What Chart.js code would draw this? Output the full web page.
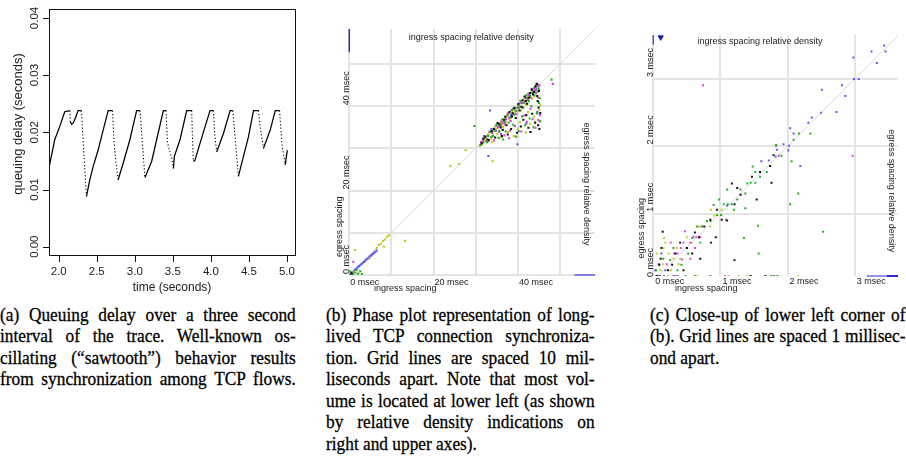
<!DOCTYPE html>
<html>
<head>
<meta charset="utf-8">
<script src="https://cdn.jsdelivr.net/npm/chart.js@4.4.0/dist/chart.umd.min.js"></script>
<style>
  body { margin: 0; background: #fff; }
  #fig { position: relative; width: 906px; height: 460px; overflow: hidden; }
  #fig canvas { position: absolute; top: 0; }
  .cap { position: absolute; top: 303.5px; font: 19.8px/21.6px "Liberation Serif", "Times New Roman", serif; color: #000;
         -webkit-text-stroke: 0.3px #000; transform: scaleX(0.875); transform-origin: 0 0; }
  .cap div { white-space: nowrap; text-align: justify; text-align-last: justify; }
  .cap div.last { text-align-last: left; }
</style>
</head>
<body>
<div id="fig">
  <canvas id="delayChart" width="310" height="300" style="left:0"></canvas>
  <canvas id="phaseChart" width="300" height="300" style="left:310px"></canvas>
  <canvas id="closeChart" width="296" height="300" style="left:610px"></canvas>

  <div class="cap" style="left:0;width:338px">
    <div>(a) Queuing delay over a three second</div>
    <div>interval of the trace. Well-known os-</div>
    <div>cillating (“sawtooth”) behavior results</div>
    <div>from synchronization among TCP flows.</div>
  </div>
  <div class="cap" style="left:326px;width:307px">
    <div>(b) Phase plot representation of long-</div>
    <div>lived TCP connection synchroniza-</div>
    <div>tion. Grid lines are spaced 10 mil-</div>
    <div>liseconds apart. Note that most vol-</div>
    <div>ume is located at lower left (as shown</div>
    <div>by relative density indications on</div>
    <div class="last">right and upper axes).</div>
  </div>
  <div class="cap" style="left:650px;width:292px">
    <div>(c) Close-up of lower left corner of</div>
    <div>(b). Grid lines are spaced 1 millisec-</div>
    <div class="last">ond apart.</div>
  </div>
</div>

<script>
// (a) queuing delay trace
const timeSec = [1.880, 1.947, 2.013, 2.079, 2.145, 2.152, 2.170, 2.190, 2.222, 2.254, 2.298,
  2.320, 2.343, 2.365, 2.408, 2.452, 2.518, 2.584, 2.650, 2.707, 2.725, 2.751, 2.781, 2.847,
  2.935, 3.024, 3.068, 3.103, 3.133, 3.221, 3.287, 3.375, 3.410, 3.430, 3.485, 3.507, 3.520,
  3.594, 3.682, 3.748, 3.760, 3.770, 3.790, 3.858, 3.924, 3.989, 4.033, 4.055, 4.077, 4.165,
  4.253, 4.288, 4.320, 4.362, 4.428, 4.494, 4.560, 4.626, 4.648, 4.692, 4.780, 4.846, 4.903,
  4.933, 4.977, 5.005];
const delaySec = [0.0143, 0.0187, 0.0210, 0.0236, 0.0238, 0.0218, 0.0214, 0.0216, 0.0226, 0.0238, 0.0238,
  0.0187, 0.0134, 0.0088, 0.0117, 0.0140, 0.0169, 0.0204, 0.0238, 0.0238, 0.0187, 0.0149, 0.0117, 0.0146,
  0.0187, 0.0238, 0.0238, 0.0175, 0.0121, 0.0149, 0.0187, 0.0238, 0.0238, 0.0181, 0.0155, 0.0137, 0.0158,
  0.0187, 0.0238, 0.0238, 0.0181, 0.0149, 0.0151, 0.0181, 0.0210, 0.0238, 0.0238, 0.0190, 0.0166, 0.0198,
  0.0238, 0.0238, 0.0190, 0.0123, 0.0158, 0.0192, 0.0238, 0.0238, 0.0209, 0.0172, 0.0204, 0.0238, 0.0238,
  0.0181, 0.0143, 0.0169];
const timeTicks = [2.0, 2.5, 3.0, 3.5, 4.0, 4.5, 5.0];
const delayTicks = [0.00, 0.01, 0.02, 0.03, 0.04];

// (b) phase plot, [ingress msec, egress msec]
const phaseTicks = [0, 10, 20, 30, 40, 50];
const phaseLabelTicks = [0, 20, 40];
const phaseBlack = [[31.4,31.2],[32.3,32.8],[33.1,31.9],[33.8,34.1],[34.6,32.6],[35.2,36.0],[35.9,35.0],[36.7,36.8],
  [37.3,35.5],[38.0,38.6],[38.8,38.3],[39.5,37.2],[40.1,40.5],[40.9,39.8],[41.6,42.3],[42.2,40.6],[42.9,43.1],
  [43.6,42.8],[44.2,44.7],[44.6,42.4],[36.2,32.9],[38.4,34.6],[39.8,33.7],[41.3,36.8],[42.5,34.9],[43.4,38.2],
  [44.1,36.1],[44.9,39.7],[45.1,34.6],[40.7,35.2],[37.6,33.3],[43.0,33.9],[44.7,41.2],[42.0,37.9],[0.5,0.4],
  [31.8,32.3],[32.8,32.1],[34.3,34.6],[35.6,35.7],[36.4,34.4],[37.0,37.5],[38.6,37.6],[39.2,39.6],[40.4,39.0],
  [41.1,41.4],[41.9,41.2],[42.6,42.0],[43.3,44.0],[43.9,43.4],[44.5,45.3],[45.0,43.6],[45.3,38.4],[44.8,35.5]];
const phaseGreen = [[31.1,30.8],[31.9,32.4],[32.7,31.5],[33.4,33.9],[34.1,33.0],[34.9,35.5],[35.6,34.1],[36.3,36.9],
  [37.0,36.2],[37.8,36.1],[38.5,39.1],[39.2,38.0],[39.9,39.6],[40.6,41.3],[41.3,39.7],[42.0,42.6],[42.6,41.2],
  [43.3,43.9],[43.9,42.6],[44.4,45.2],[44.9,44.1],[35.4,32.5],[37.1,34.0],[38.9,35.6],[40.2,34.1],[41.7,35.5],
  [42.8,37.1],[43.7,35.0],[44.5,38.3],[45.3,36.4],[45.0,40.8],[39.6,32.8],[43.2,40.0],[41.0,37.6],[36.5,32.1],
  [29.7,35.3],[48.0,46.3],[0.4,0.3],[0.9,0.2],[1.4,0.6],[2.0,0.3],[2.6,0.9],[0.2,0.9],[3.0,0.2],[1.7,1.2],
  [31.6,31.3],[32.9,33.0],[33.7,32.7],[34.5,34.2],[35.1,35.9],[36.0,35.5],[36.8,36.3],[37.5,37.9],[38.2,37.4],
  [39.0,39.3],[39.7,38.8],[40.5,40.0],[41.4,40.8],[42.2,41.9],[42.9,42.4],[43.6,43.1],[44.1,44.6],[44.7,43.5],
  [45.2,41.9]];
const phaseMagenta = [[31.7,31.9],[32.5,31.7],[33.3,34.0],[34.0,32.9],[34.8,35.4],[35.5,33.9],[36.1,36.4],[36.9,35.7],
  [37.6,38.3],[38.3,36.5],[39.0,39.5],[39.7,38.1],[40.4,40.7],[41.1,39.6],[41.8,42.1],[42.4,41.5],[43.1,42.0],
  [43.8,44.3],[44.3,43.0],[44.8,45.0],[34.3,31.9],[36.8,33.1],[38.1,34.2],[39.3,35.3],[40.8,34.0],[42.1,36.3],
  [43.5,36.9],[44.2,34.9],[45.2,37.9],[44.9,42.0],[41.5,37.8],[43.0,39.4],[37.9,32.4],[48.3,45.3],[0.95,3.15],
  [0.6,0.5],[31.3,31.5],[32.2,32.6],[33.0,32.9],[33.9,33.6],[34.6,34.3],[35.3,35.0],[36.3,35.9],[37.1,36.8],
  [37.9,37.3],[38.7,38.4],[39.5,39.0],[40.2,39.6],[41.0,40.7],[41.7,41.3],[42.6,42.7],[43.4,43.5],[44.0,43.8],
  [45.1,45.0],[45.0,36.6]];
const phaseYellow = [[31.0,30.6],[31.6,31.8],[32.1,31.7],[32.9,33.3],[33.6,32.3],[34.4,34.9],[35.1,33.4],[35.8,36.1],
  [36.5,35.1],[37.2,37.6],[38.0,36.8],[38.6,38.9],[39.4,38.3],[40.0,40.2],[40.7,39.0],[41.4,41.9],[42.1,40.3],
  [42.7,42.8],[43.4,41.7],[44.0,44.2],[44.6,43.4],[33.9,31.5],[35.9,32.6],[37.7,33.9],[39.0,32.9],[40.5,36.2],
  [41.9,33.8],[42.9,35.8],[43.8,37.5],[44.7,36.8],[45.1,39.1],[40.0,34.7],[42.4,38.6],[24.0,25.8],[26.0,26.3],
  [27.6,29.6],[34.0,27.0],[6.5,6.4],[7.0,7.1],[7.5,7.4],[8.0,8.1],[8.5,8.4],[9.0,9.1],[9.4,9.4],[8.2,6.7],
  [13.2,8.1],[1.4,5.9],[4.9,4.0],[1.0,0.8],[2.2,0.4],
  [31.4,30.9],[32.4,32.3],[33.2,33.8],[34.0,33.9],[34.9,34.6],[35.6,35.3],[36.4,36.2],[37.0,36.0],[37.8,38.2],
  [38.4,37.2],[39.3,39.0],[40.3,39.4],[41.1,41.0],[41.8,40.6],[42.5,42.3],[43.2,43.2],[43.9,42.3],[44.5,44.8],
  [45.3,40.2]];
const phaseBlue = [[32.0,32.9],[33.7,34.6],[35.4,35.2],[37.1,37.0],[38.9,39.4],[40.8,40.9],[42.5,43.0],[44.3,44.0],
  [36.0,33.4],[39.9,31.0],[42.0,35.9],[44.6,38.6],[33.0,28.2],[33.4,39.0],[31.9,31.6],[34.8,34.2],[36.6,36.1],
  [38.4,37.9],[40.1,39.8],[41.9,41.9],[43.6,43.4],[44.9,44.7],
  [0.2,0.2],[0.5,0.5],[0.8,0.7],[1.1,1.0],[1.4,1.3],[1.7,1.5],[2.0,1.8],[2.3,2.1],[2.6,2.3],[2.9,2.6],[3.2,2.9],
  [3.5,3.1],[3.8,3.4],[4.1,3.7],[4.4,3.9],[4.7,4.2],[5.0,4.5],[5.3,4.7],[5.6,5.0],[5.9,5.3],[6.2,5.5],[6.5,5.8]];
const phaseIngressDensity = [[0, 58.3], [0, 52.8]];
const phaseEgressDensity = [[53.4, 0], [58.3, 0]];
const phaseDiagonal = [0, 60];

// (c) close-up of the lower left corner, [ingress msec, egress msec]
const closeXTicks = [0, 1, 2, 3];
const closeYTicks = [1, 2, 3];
const closeLabelTicks = [0, 1, 2, 3];
const closeBlack = [[0.14,0.73],[0.12,0.49],[0.11,0.33],[0.68,0.65],[0.93,0.65],[1.10,0.90],[1.21,0.31],[0.70,0.33],
  [1.74,1.71],[1.76,1.46],[1.25,1.38],[1.21,1.14],[0.50,0.49],[1.67,0.074],[1.54,1.21],[0.62,0.72],[0.85,0.91],
  [1.02,0.91],[1.17,1.45],[1.30,1.28],[0.28,0.24],[0.22,0.16],[0.40,0.57],[1.59,1.62],[1.47,1.55],[0.76,0.81],
  [0.95,1.06],[0.33,0.41],[0.05,0.074],[1.45,0.074],[1.79,1.87],[0.09,0.24],[0.45,0.16],[0.58,0.41],[0.86,0.57]];
const closeGreen = [[1.05,1.14],[1.11,1.14],[1.17,1.14],[0.95,0.98],[1.01,0.98],[0.85,0.89],[0.80,0.89],[0.73,0.81],
  [0.65,0.81],[0.58,0.64],[1.25,1.21],[1.37,1.30],[1.45,1.46],[1.52,1.46],[1.59,1.55],[1.52,1.62],[1.69,1.62],
  [2.09,2.10],[2.17,2.19],[2.34,2.19],[1.83,2.02],[2.06,1.78],[2.04,1.14],[1.56,0.82],[1.35,0.64],[1.20,1.06],
  [1.37,1.08],[0.10,0.074],[0.48,0.074],[0.62,0.074],[1.75,0.074],[1.80,0.074],[1.85,0.074],[1.30,1.36],
  [1.10,1.36],[1.40,1.45],[0.90,1.13],[0.98,1.21],[1.91,1.86],[1.48,1.70],[0.25,0.31],[0.36,0.16],[2.53,0.73],
  [2.16,1.30],[1.57,0.41],[0.15,0.33],[0.42,0.24],[0.52,0.41],[0.30,0.49],[0.70,0.57],[0.04,0.16]];
const closeMagenta = [[0.74,2.91],[2.97,1.86],[1.87,1.86],[0.64,0.65],[0.70,0.65],[0.50,0.49],[0.41,0.49],[0.31,0.41],
  [0.43,0.32],[0.55,0.33],[0.85,0.074],[1.79,0.074],[1.07,0.074],[0.45,0.57],[0.55,0.57],[0.60,0.66],[0.36,0.41],
  [0.20,0.25],[0.47,0.74],[0.26,0.57],[0.72,0.81],[1.08,0.91],[0.07,0.074],[0.33,0.074],[0.62,0.49]];
const closeYellow = [[0.16,0.64],[0.18,0.57],[0.85,0.81],[0.91,0.97],[0.50,0.65],[0.57,0.57],[0.30,0.33],[0.38,0.25],
  [0.26,0.16],[0.11,0.16],[0.14,0.25],[1.12,0.074],[2.16,0.074],[1.27,0.074],[1.39,0.074],[0.80,0.89],[0.68,0.81],
  [0.05,0.41],[0.35,0.49],[0.86,1.06],[1.02,1.06],[0.22,0.074],[0.40,0.33],[0.23,0.41],[0.15,0.49],[0.66,0.074]];
const closeBlue = [[3.44,3.50],[3.25,3.41],[3.46,3.41],[3.33,3.24],[2.98,3.32],[2.99,3.00],[3.06,3.00],[2.81,2.91],
  [2.86,2.75],[2.51,2.84],[2.73,2.51],[2.50,2.50],[2.36,2.43],[2.31,2.35],[2.04,2.27],[2.09,2.19],[1.83,2.01],
  [1.94,2.03],[2.01,1.94],[2.19,1.71],[1.84,1.95],[1.61,1.78],[1.72,1.79],[1.82,1.85],[2.02,2.01],[0.16,0.074],
  [0.22,0.074],[0.30,0.074],[0.36,0.074],[0.03,0.16],[0.08,0.25],[1.10,1.12],[0.18,0.16],[0.12,0.41]];
const closeIngressDensity = [[0, 3.655], [0, 3.51]];
const closeIngressPeak = [[0.11, 3.62]];
const closeEgressDensity = [[3.18, 0.074], [3.48, 0.074]];
const closeEgressPeak = [[3.48, 0.074], [3.645, 0.074]];
const closeDiagonal = [0, 4];

const SANS = '"Liberation Sans", Arial, sans-serif';
const INK = '#222';

function text(ctx, str, x, y, rot, align, size) {
  ctx.save();
  ctx.translate(x, y);
  if (rot) ctx.rotate(rot);
  ctx.font = size + 'px ' + SANS;
  ctx.fillStyle = INK;
  ctx.textAlign = align;
  ctx.textBaseline = 'alphabetic';
  ctx.fillText(str, 0, 0);
  ctx.restore();
}

const toXY = pairs => pairs.map(p => ({ x: p[0], y: p[1] }));

function dots(pairs, color, r) {
  return {
    type: 'scatter', data: toXY(pairs), showLine: false,
    pointStyle: 'rect', pointRadius: r, pointBorderWidth: 0,
    backgroundColor: color, borderColor: color
  };
}

function segment(pairs, color, width) {
  return {
    type: 'line', data: toXY(pairs), borderColor: color, borderWidth: width,
    pointRadius: 0, clip: 3
  };
}

const quiet = {
  responsive: false,
  animation: false,
  events: [],
  plugins: { legend: { display: false }, tooltip: { enabled: false } }
};

// ---------- (a) ----------
const delayAxes = {
  id: 'delayAxes',
  afterDraw(chart) {
    const { ctx, chartArea: a, scales: { x, y } } = chart;
    ctx.save();
    ctx.strokeStyle = '#111';
    ctx.lineWidth = 1;
    ctx.strokeRect(a.left + 0.5, a.top + 0.5, a.width - 1, a.height - 1);
    ctx.beginPath();
    timeTicks.forEach(v => {
      const px = Math.round(x.getPixelForValue(v)) + 0.5;
      ctx.moveTo(px, a.bottom); ctx.lineTo(px, a.bottom + 6);
    });
    delayTicks.forEach(v => {
      const py = Math.round(y.getPixelForValue(v)) + 0.5;
      ctx.moveTo(a.left - 6, py); ctx.lineTo(a.left, py);
    });
    ctx.stroke();
    ctx.restore();
    timeTicks.forEach(v => text(ctx, v.toFixed(1), x.getPixelForValue(v), 274.5, 0, 'center', 11.5));
    delayTicks.forEach(v => text(ctx, v.toFixed(2), 38.3, y.getPixelForValue(v), -Math.PI / 2, 'center', 11.5));
    text(ctx, 'time (seconds)', 172, 291, 0, 'center', 12);
    text(ctx, 'queuing delay (seconds)', 22, 124, -Math.PI / 2, 'center', 13);
  }
};

new Chart(document.getElementById('delayChart'), {
  type: 'line',
  data: {
    datasets: [{
      data: timeSec.map((t, i) => ({ x: t, y: delaySec[i] })),
      borderColor: '#000', borderWidth: 1.25, pointRadius: 0, tension: 0,
      segment: {
        borderDash: c => c.p1.parsed.y < c.p0.parsed.y - 0.0008 ? [1.2, 2.2] : undefined,
        borderWidth: c => c.p1.parsed.y < c.p0.parsed.y - 0.0008 ? 1.1 : 1.25
      }
    }]
  },
  options: {
    ...quiet,
    layout: { padding: { left: 49, right: 14, top: 9, bottom: 44 } },
    scales: {
      x: { type: 'linear', min: 1.872, max: 5.119, display: false },
      y: { type: 'linear', min: -0.00163, max: 0.04157, display: false }
    }
  },
  plugins: [delayAxes]
});

// ---------- (b) and (c) shared look ----------
function phaseScale(min, max, ticks) {
  return {
    type: 'linear', min, max,
    afterBuildTicks: s => { s.ticks = ticks.map(v => ({ value: v })); },
    ticks: { display: false },
    grid: { color: '#e4e4e4', lineWidth: 2, drawTicks: false },
    border: { display: false }
  };
}

function phaseLabels(cfg) {
  return {
    id: 'phaseLabels',
    afterDraw(chart) {
      const { ctx, chartArea: a, scales: { x, y } } = chart;
      cfg.ticks.forEach(v => {
        text(ctx, v + ' msec', x.getPixelForValue(v) + cfg.tickGap, cfg.xBase, 0, 'left', 9);
        const py = Math.min(y.getPixelForValue(v) - cfg.tickGap, a.bottom + 1);
        text(ctx, v + ' msec', cfg.yBase, py, -Math.PI / 2, 'left', 9);
      });
      text(ctx, 'ingress spacing', cfg.inX, 291, 0, 'center', 9);
      text(ctx, 'egress spacing', cfg.egX, cfg.egY, -Math.PI / 2, 'center', 9);
      text(ctx, 'ingress spacing relative density', cfg.topX, cfg.topY, 0, 'center', 9);
      text(ctx, 'egress spacing relative density', cfg.rightX, cfg.rightY, Math.PI / 2, 'center', 9);
    }
  };
}

const colBlack = '#111111', colGreen = '#22b022', colMagenta = '#e040e0', colYellow = '#c8c820', colBlue = '#5a5aee';

// ---------- (b) ----------
new Chart(document.getElementById('phaseChart'), {
  type: 'scatter',
  data: {
    datasets: [
      dots(phaseBlack, colBlack, 1.5),
      dots(phaseGreen, colGreen, 1.5),
      dots(phaseMagenta, colMagenta, 1.5),
      dots(phaseYellow, colYellow, 1.5),
      dots(phaseBlue, colBlue, 1.5),
      segment(phaseIngressDensity, '#3030b0', 1.5),
      segment(phaseEgressDensity, '#6060e0', 1.5),
      { type: 'line', data: phaseDiagonal.map(v => ({ x: v, y: v })), borderColor: '#dadada', borderWidth: 1, pointRadius: 0 }
    ]
  },
  options: {
    ...quiet,
    layout: { padding: { left: 39.3, right: 15, top: 29, bottom: 25 } },
    scales: { x: phaseScale(0, 58.3, phaseTicks), y: phaseScale(0, 58.3, phaseTicks) }
  },
  plugins: [phaseLabels({
    ticks: phaseLabelTicks, tickGap: 1, xBase: 284.5, yBase: 39,
    inX: 95.3, egX: 31.5, egY: 226.7, topX: 161.2, topY: 40, rightX: 274, rightY: 184
  })]
});

// ---------- (c) ----------
new Chart(document.getElementById('closeChart'), {
  type: 'scatter',
  data: {
    datasets: [
      dots(closeBlack, colBlack, 1.4),
      dots(closeGreen, colGreen, 1.4),
      dots(closeMagenta, colMagenta, 1.4),
      dots(closeYellow, colYellow, 1.4),
      dots(closeBlue, colBlue, 1.4),
      { type: 'scatter', data: toXY(closeIngressPeak), pointStyle: 'triangle', rotation: 180,
        pointRadius: 3, backgroundColor: '#2020a0', borderColor: '#2020a0', clip: 4 },
      segment(closeIngressDensity, '#5050d0', 1.5),
      segment(closeEgressDensity, '#7070e8', 1.5),
      segment(closeEgressPeak, '#2828d8', 1.8),
      { type: 'line', data: closeDiagonal.map(v => ({ x: v, y: v })), borderColor: '#dadada', borderWidth: 1, pointRadius: 0 }
    ]
  },
  options: {
    ...quiet,
    layout: { padding: { left: 43.3, right: 8, top: 35, bottom: 24 } },
    scales: { x: phaseScale(0, 3.645, closeXTicks), y: phaseScale(0.074, 3.655, closeYTicks) }
  },
  plugins: [phaseLabels({
    ticks: closeLabelTicks, tickGap: 2, xBase: 283.5, yBase: 42.5,
    inX: 96.2, egX: 33.5, egY: 228.3, topX: 150, topY: 43.5, rightX: 278.5, rightY: 190.8
  })]
});
</script>
</body>
</html>
